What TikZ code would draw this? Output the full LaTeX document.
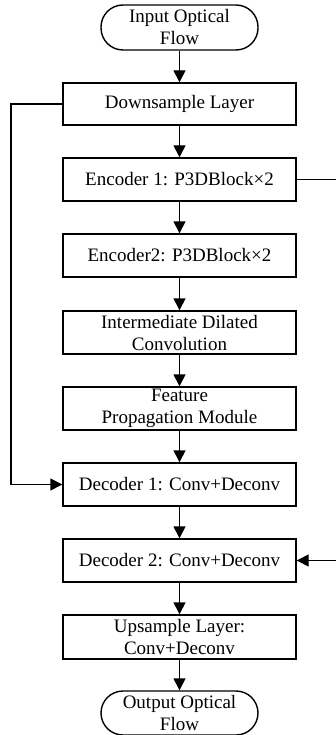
\documentclass[tikz,border=0pt]{standalone}
\usepackage{fontspec}
\setmainfont{Liberation Serif}
\usetikzlibrary{arrows.meta}
\begin{document}
\begin{tikzpicture}[x=1pt,y=-1pt,
  box/.style={draw,line width=1.4pt,minimum width=233pt,minimum height=43pt,inner sep=0pt,align=center,font=\fontsize{19}{22}\selectfont},
  term/.style={box,minimum width=157pt,minimum height=45pt,rounded corners=22pt},
  arr/.style={line width=1.4pt,-{Triangle[width=12pt,length=12pt]}},
  ln/.style={line width=1.4pt}]
\useasboundingbox (0,0) rectangle (335,735);
\node[term] (in) at (179.5,27.5) {Input Optical\\Flow};
\node[box,minimum height=42pt] (down) at (179.5,104) {Downsample Layer};
\node[box] (enc1) at (179.5,179.5) {Encoder 1: P3DBlock×2};
\node[box] (enc2) at (179.5,255.5) {Encoder2: P3DBlock×2};
\node[box] (inter) at (179.5,332.5) {Intermediate Dilated\\Convolution};
\node[box] (feat) at (179.5,408.5) {Feature\\Propagation Module};
\node[box] (dec1) at (179.5,484.5) {Decoder 1: Conv+Deconv};
\node[box] (dec2) at (179.5,560.5) {Decoder 2: Conv+Deconv};
\node[box,minimum height=44pt] (up) at (179.5,637) {Upsample Layer:\\Conv+Deconv};
\node[term,minimum height=44pt] (out) at (179.5,713) {Output Optical\\Flow};
\coordinate (l1) at (11,104);
\coordinate (l2) at (11,484.5);
\coordinate (r1) at (350,179.5);
\coordinate (r2) at (350,560.5);
\draw[arr] (in) -- (down);
\draw[arr] (down) -- (enc1);
\draw[arr] (enc1) -- (enc2);
\draw[arr] (enc2) -- (inter);
\draw[arr] (inter) -- (feat);
\draw[arr] (feat) -- (dec1);
\draw[arr] (dec1) -- (dec2);
\draw[arr] (dec2) -- (up);
\draw[arr] (up) -- (out);
\draw[arr] (down.west) -- (l1) -- (l2) -- (dec1.west);
\draw[arr] (enc1.east) -- (r1) -- (r2) -- (dec2.east);
\end{tikzpicture}
\end{document}
